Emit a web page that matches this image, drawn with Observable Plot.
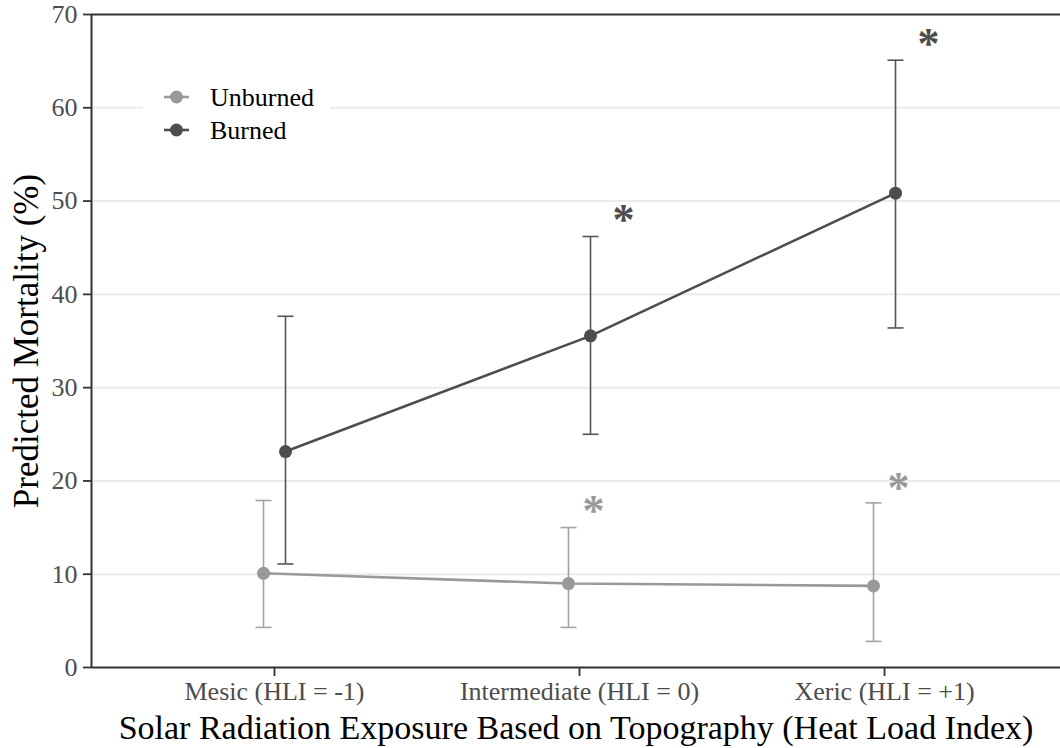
<!DOCTYPE html>
<html><head><meta charset="utf-8">
<script src="https://cdn.jsdelivr.net/npm/d3@7"></script>
<script src="https://cdn.jsdelivr.net/npm/@observablehq/plot@0.6"></script>
<style>
body{margin:0;background:#fff;}
#chart{position:relative;width:1060px;height:748px;}
</style>
</head><body><div id="chart"></div>
<script>
// ---- data ----
const categories = ["Mesic (HLI = -1)", "Intermediate (HLI = 0)", "Xeric (HLI = +1)"];
const groups = ["Unburned", "Burned"];
const unburnedMean = [10.1, 9.0, 8.75];
const unburnedLow = [4.3, 4.3, 2.8];
const unburnedHigh = [17.9, 15.0, 17.65];
const burnedMean = [23.15, 35.55, 50.85];
const burnedLow = [11.1, 25.0, 36.4];
const burnedHigh = [37.65, 46.2, 65.1];
const unburnedStars = [null, 16.8, 19.3];
const burnedStars = [null, 48.0, 66.8];
const yTicks = [0, 10, 20, 30, 40, 50, 60, 70];
const xTitle = "Solar Radiation Exposure Based on Topography (Heat Load Index)";
const yTitle = "Predicted Mortality (%)";

// ---- styles ----
const colors = {Unburned: "#999999", Burned: "#4d4d4d"};
const barColors = {Unburned: "#a3a3a3", Burned: "#555555"};
const dodge = {Unburned: -11, Burned: 11};
const starShift = {Unburned: 14, Burned: 44};
const font = "'Liberation Serif', 'Times New Roman', serif";

const series = {
  Unburned: {mean: unburnedMean, low: unburnedLow, high: unburnedHigh, stars: unburnedStars},
  Burned: {mean: burnedMean, low: burnedLow, high: burnedHigh, stars: burnedStars}
};
function rowsFor(g) {
  return categories.map((c, i) => ({cat: i + 1, group: g, mean: series[g].mean[i], low: series[g].low[i], high: series[g].high[i]}));
}
function starsFor(g) {
  return categories.map((c, i) => ({cat: i + 1, group: g, y: series[g].stars[i]})).filter(d => d.y != null);
}
const cap = {draw(context) { context.moveTo(-8, 0); context.lineTo(8, 0); }};

const seriesMarks = [];
for (const g of groups) {
  const rows = rowsFor(g);
  const dx = dodge[g];
  seriesMarks.push(
    Plot.ruleX(rows, {x: "cat", y1: "low", y2: "high", dx, stroke: barColors[g], strokeWidth: 1.6}),
    Plot.dot(rows, {x: "cat", y: "low", dx, symbol: cap, r: 5, fill: "none", stroke: barColors[g], strokeWidth: 1.6}),
    Plot.dot(rows, {x: "cat", y: "high", dx, symbol: cap, r: 5, fill: "none", stroke: barColors[g], strokeWidth: 1.6}),
    Plot.line(rows, {x: "cat", y: "mean", dx, stroke: colors[g], strokeWidth: 2.6}),
    Plot.dot(rows, {x: "cat", y: "mean", dx, r: 6.5, fill: colors[g], stroke: "none"}),
    Plot.text(starsFor(g), {x: "cat", y: "y", text: () => "*", dx: starShift[g], fill: colors[g], fontSize: 44, fontWeight: "bold", fontFamily: font})
  );
}

const plot = Plot.plot({
  width: 1060, height: 748,
  marginLeft: 91, marginRight: 0, marginTop: 14, marginBottom: 81,
  style: {fontFamily: font, background: "white", overflow: "hidden"},
  x: {type: "linear", domain: [0.4, 3.577]},
  y: {domain: [0, 70]},
  marks: [
    Plot.gridY(yTicks.slice(1, -1), {stroke: "#ebebeb", strokeOpacity: 1, strokeWidth: 2}),
    Plot.ruleY([0, 70], {stroke: "#333333", strokeWidth: 2}),
    Plot.ruleX([0.4], {stroke: "#333333", strokeWidth: 2}),
    Plot.axisY({ticks: yTicks, tickSize: 8, tickPadding: 6, fontSize: 26, color: "#4d4d4d", label: null}),
    Plot.axisX({ticks: [1, 2, 3], tickFormat: i => categories[i - 1], tickSize: 9, tickPadding: 5, fontSize: 26, color: "#4d4d4d", label: null}),
    ...seriesMarks,
    Plot.text([xTitle], {text: d => d, frameAnchor: "bottom", textAnchor: "middle", lineAnchor: "middle", dy: 61, fontSize: 34, fill: "black"}),
    Plot.text([yTitle], {text: d => d, frameAnchor: "left", textAnchor: "middle", lineAnchor: "middle", dx: -65, rotate: -90, fontSize: 35, fill: "black"})
  ]
});

const svg = d3.select(plot);
svg.selectAll('g[aria-label="y-axis tick"], g[aria-label="x-axis tick"]').attr("stroke", "#333333").attr("stroke-width", 1.8);

// legend
const lg = svg.append("g").attr("aria-label", "legend");
lg.append("rect").attr("x", 143).attr("y", 78).attr("width", 187).attr("height", 72).attr("fill", "white");
groups.forEach((g, i) => {
  const cy = 97 + i * 33;
  lg.append("line").attr("x1", 164).attr("x2", 189).attr("y1", cy).attr("y2", cy).attr("stroke", colors[g]).attr("stroke-width", 2.6);
  lg.append("circle").attr("cx", 176.5).attr("cy", cy).attr("r", 6.5).attr("fill", colors[g]);
  lg.append("text").attr("x", 210).attr("y", cy).attr("dy", "0.34em").attr("text-anchor", "start").attr("font-size", 26).attr("fill", "black").attr("font-family", font).text(g);
});

document.getElementById("chart").appendChild(plot);
</script>
</body></html>
